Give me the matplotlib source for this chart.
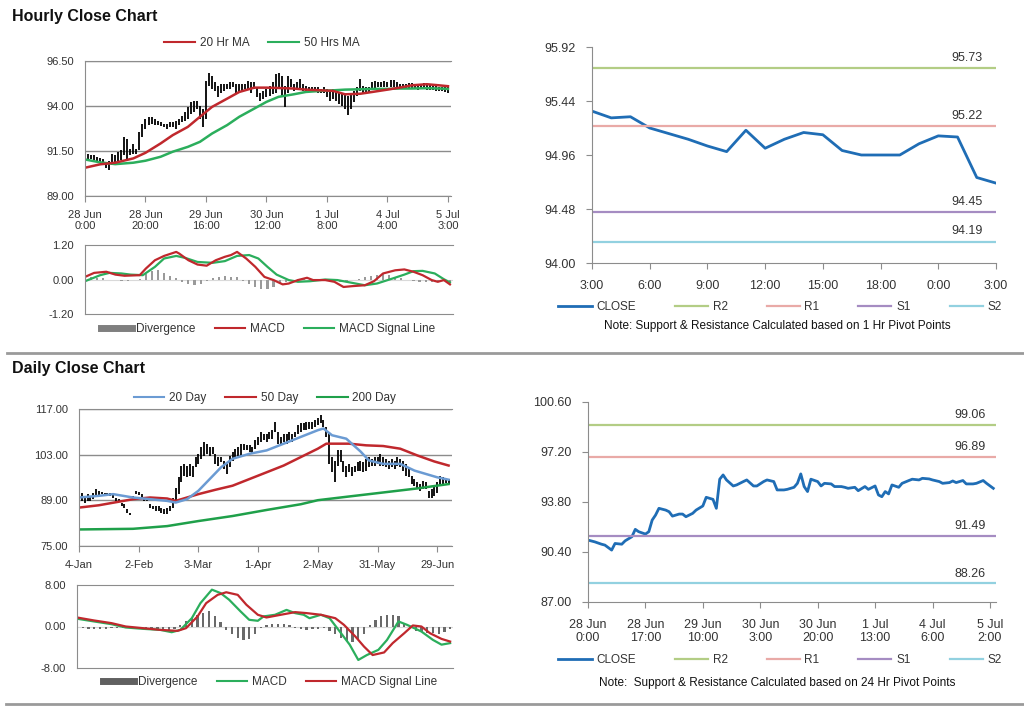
import matplotlib.pyplot as plt
from matplotlib.lines import Line2D
import numpy as np

plt.rcParams['font.family'] = ['Liberation Sans', 'DejaVu Sans']

# ---- hourly close chart (bars: high / low per hour) ----
hourly_hi = [91.45, 91.35, 91.30, 91.26, 91.17, 91.10, 91.08, 90.89, 90.95, 91.35,
             91.26, 91.45, 91.54, 92.27, 92.18, 91.63, 91.91, 91.63, 92.55, 93.01,
             93.28, 93.38, 93.38, 93.28, 93.19, 93.10, 93.01, 93.01, 93.10, 93.10,
             93.19, 93.28, 93.47, 93.65, 93.93, 94.20, 94.29, 94.29, 94.02, 93.83,
             95.40, 95.86, 95.67, 95.31, 95.12, 95.21, 95.21, 95.21, 95.31, 95.31,
             95.21, 95.21, 95.21, 95.21, 95.40, 95.31, 95.31, 95.03, 94.75, 94.85,
             94.94, 95.12, 95.31, 95.76, 95.86, 95.67, 95.12, 95.67, 95.49, 95.21,
             95.31, 95.49, 95.21, 95.12, 95.03, 95.03, 95.03, 95.03, 94.94, 95.03,
             94.94, 94.85, 94.94, 94.85, 94.75, 94.75, 94.66, 94.57, 94.75, 94.85,
             95.03, 95.49, 95.12, 95.03, 95.03, 95.31, 95.40, 95.31, 95.31, 95.40,
             95.34, 95.45, 95.45, 95.31, 95.21, 95.21, 95.21, 95.27, 95.27, 95.21,
             95.21, 95.21, 95.27, 95.16, 95.16, 95.12, 95.12, 95.08, 95.08, 95.03,
             95.03]
hourly_lo = [91.17, 91.08, 91.05, 90.99, 90.95, 90.89, 90.85, 90.53, 90.43, 90.71,
             90.80, 90.89, 90.99, 91.26, 91.08, 91.26, 91.35, 91.35, 91.54, 92.27,
             92.73, 92.92, 93.01, 92.92, 92.92, 92.88, 92.83, 92.73, 92.82, 92.82,
             92.73, 92.92, 93.10, 93.19, 93.28, 93.56, 93.65, 93.83, 93.28, 92.82,
             93.28, 95.12, 94.94, 94.85, 94.48, 94.75, 94.85, 94.94, 94.94, 95.03,
             94.75, 94.75, 94.85, 94.94, 94.94, 94.75, 94.94, 94.48, 94.29, 94.39,
             94.48, 94.57, 94.66, 94.75, 94.94, 94.57, 93.93, 94.75, 95.03, 94.85,
             94.94, 94.94, 94.85, 94.85, 94.79, 94.79, 94.79, 94.75, 94.75, 94.75,
             94.48, 94.29, 94.39, 94.29, 94.11, 94.02, 93.83, 93.50, 93.83, 94.20,
             94.57, 94.85, 94.75, 94.79, 94.79, 94.94, 94.94, 95.03, 95.03, 95.03,
             95.03, 95.03, 95.08, 95.03, 94.94, 94.94, 94.94, 94.94, 94.94, 94.94,
             94.90, 94.94, 94.94, 94.90, 94.90, 94.90, 94.85, 94.85, 94.85, 94.79,
             94.72]
hourly_ma_idx = [0, 5, 10, 16, 20, 25, 29, 34, 38, 42, 47, 51, 56, 60, 64, 69, 73, 78,
                 82, 86, 91, 95, 100, 104, 108, 113, 117, 120]
hourly_ma20 = [90.57, 90.76, 90.85, 91.09, 91.40, 91.92, 92.38, 92.84, 93.40, 93.95,
               94.41, 94.78, 95.02, 95.02, 95.00, 94.97, 94.91, 94.87, 94.84, 94.65,
               94.68, 94.78, 94.91, 95.02, 95.15, 95.21, 95.15, 95.10]
hourly_ma50 = [91.03, 90.87, 90.77, 90.85, 90.96, 91.18, 91.46, 91.73, 92.01, 92.47,
               92.94, 93.40, 93.86, 94.23, 94.51, 94.65, 94.78, 94.84, 94.87, 94.91,
               94.93, 94.95, 94.95, 94.97, 94.97, 94.99, 94.97, 94.95]
hourly_ticks = ['28 Jun\n0:00', '28 Jun\n20:00', '29 Jun\n16:00', '30 Jun\n12:00',
                '1 Jul\n8:00', '4 Jul\n4:00', '5 Jul\n3:00']

# hourly MACD
h_macd_idx = [0, 3, 7, 10, 13, 18, 20, 23, 26, 30, 31, 34, 37, 40, 43, 46, 48, 50, 53, 56,
              59, 62, 65, 67, 70, 73, 75, 79, 82, 85, 88, 92, 95, 98, 102, 105, 108, 111,
              114, 116, 118, 120]
h_macd = [0.09, 0.23, 0.27, 0.17, 0.13, 0.15, 0.38, 0.67, 0.82, 0.96, 0.90, 0.67, 0.52,
          0.48, 0.67, 0.79, 0.85, 0.96, 0.73, 0.44, 0.09, -0.02, -0.17, -0.14, -0.02,
          0.06, -0.02, -0.02, -0.08, -0.26, -0.23, -0.20, -0.06, 0.21, 0.32, 0.35, 0.27,
          0.15, -0.02, -0.08, -0.02, -0.17]
h_sig_idx = [0, 5, 8, 12, 15, 19, 23, 26, 30, 33, 37, 42, 46, 50, 54, 57, 60, 63, 67, 70,
             74, 79, 83, 87, 92, 96, 101, 105, 108, 111, 115, 118, 120]
h_signal = [-0.06, 0.15, 0.23, 0.21, 0.17, 0.15, 0.44, 0.73, 0.82, 0.75, 0.61, 0.58, 0.64,
            0.82, 0.85, 0.73, 0.44, 0.17, -0.02, -0.08, -0.06, 0.00, -0.02, -0.10, -0.20,
            -0.14, 0.03, 0.17, 0.29, 0.30, 0.21, 0.01, -0.10]
h_div = [0.05, 0.08, 0.06, 0.04, 0.0, -0.03, -0.05, -0.04, -0.02, 0.02,
         0.18, 0.30, 0.32, 0.22, 0.12, 0.04, -0.08, -0.14, -0.18, -0.16,
         -0.06, 0.06, 0.10, 0.12, 0.10, 0.08, -0.04, -0.14, -0.25, -0.32,
         -0.34, -0.26, -0.16, -0.08, -0.02, 0.03, 0.05, 0.04, 0.0, -0.02,
         -0.05, -0.08, -0.10, -0.08, -0.03, 0.03, 0.08, 0.12, 0.16, 0.18,
         0.14, 0.08, 0.04, -0.02, -0.06, -0.08, -0.10, -0.08, -0.10, -0.06,
         -0.08]

# 1 hr pivot chart
tr_close = [95.35, 95.29, 95.30, 95.20, 95.15, 95.10, 95.04, 94.99, 95.18, 95.02, 95.10,
            95.16, 95.14, 95.00, 94.96, 94.96, 94.96, 95.06, 95.13, 95.12, 94.76, 94.71]
tr_ticks = ['3:00', '6:00', '9:00', '12:00', '15:00', '18:00', '0:00', '3:00']
tr_yticks = [94.00, 94.48, 94.96, 95.44, 95.92]
tr_levels = {'R2': 95.73, 'R1': 95.22, 'S1': 94.45, 'S2': 94.19}

# ---- daily close chart ----
daily_hi = [92.10, 91.38, 90.35, 90.87, 90.35, 91.38, 92.41, 91.90, 91.69, 91.38,
            91.38, 91.38, 90.87, 89.83, 89.32, 88.28, 87.77, 86.22, 85.18, 90.35,
            91.90, 91.69, 90.87, 89.83, 89.83, 87.77, 87.25, 87.25, 87.25, 86.73,
            86.22, 86.73, 87.25, 89.83, 92.93, 96.03, 99.65, 100.16, 99.65, 100.16,
            99.65, 102.23, 103.26, 105.33, 106.88, 106.36, 105.33, 105.33, 103.26, 102.23,
            102.23, 101.19, 100.16, 102.74, 103.78, 104.81, 105.33, 106.36, 106.36, 105.84,
            105.84, 105.33, 107.39, 108.43, 109.98, 109.46, 109.46, 109.98, 110.49, 113.07,
            109.98, 108.43, 109.46, 109.46, 109.98, 109.46, 109.98, 112.04, 112.56, 112.56,
            113.07, 113.07, 113.07, 113.59, 114.11, 115.14, 113.59, 111.52, 109.98, 102.23,
            101.19, 104.29, 104.29, 101.19, 99.65, 100.16, 99.13, 99.65, 100.68, 101.19,
            100.68, 101.71, 102.23, 101.71, 102.23, 102.23, 103.26, 102.23, 101.71, 101.19,
            101.71, 101.19, 102.23, 101.71, 101.19, 100.16, 99.13, 96.55, 95.51, 94.48,
            93.96, 95.00, 94.48, 91.90, 92.41, 93.45, 94.48, 96.55, 96.03, 95.82,
            95.51]
daily_lo = [88.80, 88.80, 88.28, 88.80, 88.80, 89.32, 90.35, 90.35, 90.87, 90.66,
            90.66, 90.35, 89.83, 88.80, 88.80, 87.25, 86.73, 85.18, 84.46, 89.32,
            90.87, 90.66, 89.83, 88.80, 88.80, 86.73, 86.22, 85.70, 85.70, 85.18,
            84.67, 84.67, 85.70, 86.73, 88.80, 90.87, 94.48, 96.55, 96.03, 96.55,
            96.03, 99.13, 100.16, 101.71, 102.74, 103.26, 102.74, 103.26, 100.16, 99.65,
            100.68, 98.61, 97.06, 99.13, 101.19, 102.23, 102.74, 102.74, 104.29, 104.29,
            103.78, 103.26, 104.81, 105.84, 106.88, 107.39, 106.88, 107.91, 107.91, 109.98,
            106.36, 105.84, 106.88, 106.36, 107.39, 106.88, 108.43, 109.46, 109.98, 110.49,
            110.49, 111.01, 111.01, 111.52, 112.04, 112.56, 111.52, 108.43, 100.16, 97.58,
            94.48, 99.65, 100.68, 97.58, 96.03, 97.58, 96.55, 97.58, 98.10, 98.10,
            97.58, 98.10, 99.13, 99.65, 99.65, 100.16, 99.65, 99.65, 99.13, 98.61,
            99.13, 98.61, 99.65, 99.13, 98.10, 96.55, 96.03, 93.96, 93.45, 92.41,
            91.90, 92.41, 92.41, 89.83, 89.83, 90.35, 91.38, 93.45, 93.96, 94.17,
            93.96]
d20_idx = [0, 7, 12, 19, 25, 31, 34, 38, 42, 46, 50, 54, 60, 66, 72, 78, 84, 86, 89, 94,
           99, 102, 107, 113, 118, 122, 126, 130]
d20 = [89.87, 90.38, 90.90, 89.87, 89.35, 88.83, 88.32, 89.35, 91.93, 95.54, 99.15, 101.73,
       103.28, 104.31, 106.37, 108.44, 110.50, 111.02, 108.95, 107.90, 104.00, 101.21,
       100.18, 100.18, 98.12, 97.09, 96.06, 95.33]
d50_idx = [0, 7, 19, 25, 31, 34, 38, 42, 48, 54, 60, 66, 72, 78, 84, 87, 95, 101, 107, 113,
           119, 125, 130]
d50 = [86.77, 87.49, 89.35, 89.87, 89.56, 88.83, 89.87, 90.90, 92.24, 93.48, 95.54, 97.60,
       99.67, 102.25, 104.83, 106.37, 106.37, 105.86, 105.65, 104.83, 102.76, 100.91, 99.67]
d200_idx = [0, 19, 31, 42, 54, 66, 78, 84, 95, 107, 119, 130]
d200 = [80.07, 80.27, 81.10, 82.65, 84.19, 86.05, 87.80, 89.04, 90.18, 91.41, 92.65, 93.99]
daily_ticks = ['4-Jan', '2-Feb', '3-Mar', '1-Apr', '2-May', '31-May', '29-Jun']

# daily MACD
d_macd_idx = [0, 6, 12, 17, 23, 29, 33, 36, 40, 43, 47, 50, 53, 57, 60, 63, 65, 69, 73, 76,
              79, 81, 85, 88, 92, 95, 98, 101, 105, 108, 112, 115, 120, 124, 127, 130]
d_macd = [1.5, 0.97, 0.45, -0.19, -0.45, -0.65, -1.1, -0.65, 1.6, 4.5, 7.1, 6.45, 5.16, 2.9,
          1.29, 1.1, 1.94, 2.26, 3.2, 2.58, 2.26, 1.6, 2.26, 1.6, -1.3, -3.5, -6.45, -5.5,
          -4.5, -2.6, 0.97, 0.32, -0.97, -2.58, -3.5, -3.2]
d_sig_idx = [0, 6, 12, 17, 23, 29, 35, 38, 42, 45, 49, 52, 56, 59, 63, 66, 71, 76, 80, 85,
             90, 93, 97, 100, 103, 107, 110, 114, 117, 120, 123, 127, 130]
d_signal = [1.74, 1.16, 0.65, 0.0, -0.32, -0.65, -0.84, -0.32, 1.94, 4.5, 6.1, 6.6, 6.1, 4.2,
            2.26, 1.74, 2.26, 2.77, 2.58, 2.26, 1.6, 0.32, -1.94, -3.87, -5.5, -5.0, -3.2,
            -1.3, 0.2, 0.0, -1.3, -2.39, -2.9]
d_div = [-0.1, -0.3, -0.4, -0.5, -0.5, -0.4, -0.3, -0.2, -0.2, -0.2,
         -0.3, -0.3, -0.4, -0.4, -0.4, -0.5, -0.6, -0.5, 0.3, 1.0,
         1.6, 2.2, 2.6, 3.0, 2.0, 0.8, -0.6, -1.5, -2.2, -2.6,
         -2.5, -1.5, -0.3, 0.3, 0.4, 0.4, 0.4, 0.3, -0.2, -0.4,
         -0.6, -0.5, -0.4, -0.3, -0.8, -1.5, -2.2, -2.8, -3.0, -2.5,
         -1.5, 0.3, 1.2, 2.0, 2.3, 2.3, 2.0, 0.6, -0.3, -0.8,
         -1.0, -1.2, -1.3, -1.4, -1.0, -0.5]

# 24 hr pivot chart
br_hours = [0, 2, 4, 5, 7, 8, 10, 11, 13, 14, 15, 17, 18, 19, 20, 21, 23, 24, 25, 27, 28,
            29, 31, 32, 34, 35, 37, 38, 39, 40, 41, 43, 44, 46, 47, 49, 50, 52, 53, 55, 56,
            58, 59, 61, 62, 63, 64, 65, 66, 68, 69, 70, 72, 73, 75, 76, 77, 79, 80, 82, 83,
            85, 86, 87, 88, 89, 90, 92, 93, 95, 96, 98, 99, 101, 102, 104, 105, 107, 108,
            109, 111, 112, 114, 115, 117, 118, 120]
br_close = [91.21, 91.09, 90.93, 90.87, 90.53, 90.98, 90.93, 91.16, 91.44, 91.94, 91.78,
            91.62, 91.78, 92.57, 92.91, 93.37, 93.25, 93.14, 92.84, 92.98, 92.98, 92.80,
            93.03, 93.25, 93.53, 94.12, 93.98, 93.37, 95.35, 95.64, 95.30, 94.89, 94.96,
            95.19, 95.30, 94.89, 94.89, 95.19, 95.30, 95.19, 94.62, 94.62, 94.66, 94.80,
            95.07, 95.71, 94.85, 94.51, 95.35, 95.19, 94.89, 95.07, 95.03, 94.85, 94.85,
            94.80, 94.73, 94.80, 94.57, 94.85, 94.66, 94.89, 94.28, 94.16, 94.51, 94.35,
            94.96, 94.80, 95.07, 95.26, 95.35, 95.30, 95.41, 95.37, 95.30, 95.19, 95.07,
            95.12, 95.23, 95.12, 95.26, 95.03, 95.03, 95.07, 95.26, 95.07, 94.73]
br_ticks = ['28 Jun\n0:00', '28 Jun\n17:00', '29 Jun\n10:00', '30 Jun\n3:00',
            '30 Jun\n20:00', '1 Jul\n13:00', '4 Jul\n6:00', '5 Jul\n2:00']
br_yticks = [87.00, 90.40, 93.80, 97.20, 100.60]
br_levels = {'R2': 99.06, 'R1': 96.89, 'S1': 91.49, 'S2': 88.26}

RED = '#c0282d'
GREEN = '#2bae5c'
BLUE = '#6b9bd3'
CLOSE = '#1f6db5'
LEVEL_COLORS = {'R2': '#b3cd85', 'R1': '#e9aaa7', 'S1': '#a58cc2', 'S2': '#92d1e0'}
AXC = '#8c8c8c'
TXT = '#333333'

W, H = 1024, 706
fig = plt.figure(figsize=(W / 100, H / 100), dpi=100)


def rect(left, top, right, bottom):
    return [left / W, 1 - bottom / H, (right - left) / W, (bottom - top) / H]


def style(ax, size=8, top=True):
    ax.spines['right'].set_visible(False)
    ax.spines['top'].set_visible(top)
    for s in ['left', 'bottom', 'top']:
        ax.spines[s].set_color(AXC)
    ax.tick_params(colors=AXC, labelcolor=TXT, labelsize=size, length=4, width=0.8)


def fmt2(ax, ticks):
    ax.set_yticks(ticks)
    ax.set_yticklabels(['%.2f' % t for t in ticks])


def legend(handles, labels, x, y, size=8.5, colsp=1.6, hl=2.6):
    fig.legend(handles, labels, loc='center', bbox_to_anchor=(x / W, 1 - y / H),
               ncol=len(labels), frameon=False, fontsize=size, columnspacing=colsp,
               handlelength=hl, handletextpad=0.4, labelcolor=TXT)


# titles and separators
fig.text(12 / W, 1 - 16 / H, 'Hourly Close Chart', fontsize=11.5, fontweight='bold',
         va='center', ha='left', color='#111111')
fig.text(12 / W, 1 - 369 / H, 'Daily Close Chart', fontsize=11.5, fontweight='bold',
         va='center', ha='left', color='#111111')
fig.add_artist(Line2D([7 / W, 1], [1 - 353 / H] * 2, color='#9a9a9a', lw=2))
fig.add_artist(Line2D([6 / W, 1], [1 - 704 / H] * 2, color='#9a9a9a', lw=2))

# hourly bars
ax = fig.add_axes(rect(85, 61, 451, 196))
style(ax)
ax.yaxis.grid(True, color=AXC, lw=1)
ax.set_axisbelow(True)
ax.vlines(np.arange(len(hourly_hi)), hourly_lo, hourly_hi, color='black', lw=1.3)
ax.plot(hourly_ma_idx, hourly_ma50, color=GREEN, lw=1.8)
ax.plot(hourly_ma_idx, hourly_ma20, color=RED, lw=1.8)
ax.set_xlim(0, 121)
ax.set_ylim(89, 96.5)
fmt2(ax, [89.00, 91.50, 94.00, 96.50])
ax.set_xticks(np.arange(0, 121, 20))
ax.set_xticklabels(hourly_ticks)
ax.tick_params(axis='x', pad=6)
ax.tick_params(axis='y', length=0, pad=8)
legend([Line2D([], [], color=RED, lw=1.5), Line2D([], [], color=GREEN, lw=1.5)],
       ['20 Hr MA', '50 Hrs MA'], 262, 43)

# hourly MACD
ax = fig.add_axes(rect(85, 245, 453, 314))
style(ax)
ax.axhline(0, color='#d9d9d9', lw=0.8, zorder=0)
ax.bar(np.arange(0, 121, 2), h_div, width=0.7, color='#9a9a9a')
ax.plot(h_sig_idx, h_signal, color=GREEN, lw=1.6)
ax.plot(h_macd_idx, h_macd, color=RED, lw=1.6)
ax.set_xlim(0, 121)
ax.set_ylim(-1.2, 1.2)
fmt2(ax, [-1.20, 0.00, 1.20])
ax.tick_params(axis='x', bottom=False, labelbottom=False)
ax.tick_params(axis='y', length=0, pad=8)
legend([Line2D([], [], color='#7f7f7f', lw=5), Line2D([], [], color=RED, lw=1.5),
        Line2D([], [], color=GREEN, lw=1.5)],
       ['Divergence', 'MACD', 'MACD Signal Line'], 268, 329)

# 1 hr pivot chart
ax = fig.add_axes(rect(592, 47, 996, 263))
style(ax, size=9, top=False)
ax.plot(np.arange(len(tr_close)), tr_close, color=CLOSE, lw=2, label='CLOSE')
for name, v in tr_levels.items():
    ax.axhline(v, color=LEVEL_COLORS[name], lw=1.6, label=name)
    ax.annotate('%.2f' % v, xy=(0.928, v), xycoords=('axes fraction', 'data'),
                xytext=(0, 3), textcoords='offset points', ha='center', va='bottom',
                fontsize=9, color=TXT)
ax.set_xlim(0, 21)
ax.set_ylim(94.00, 95.92)
fmt2(ax, tr_yticks)
ax.set_xticks(np.arange(0, 22, 3))
ax.set_xticklabels(tr_ticks)
ax.tick_params(axis='x', pad=8)
ax.tick_params(axis='y', pad=8)
h, l = ax.get_legend_handles_labels()
legend(h, l, 780, 307, size=8.5, colsp=3.3, hl=2.8)
fig.text(777 / W, 1 - 326 / H, 'Note: Support & Resistance Calculated based on 1 Hr Pivot Points',
         fontsize=8.5, ha='center', va='center', color='#111111')

# daily bars
ax = fig.add_axes(rect(79, 409, 452, 546))
style(ax)
ax.yaxis.grid(True, color=AXC, lw=1)
ax.set_axisbelow(True)
ax.vlines(np.arange(len(daily_hi)), daily_lo, daily_hi, color='black', lw=1.3)
ax.plot(d200_idx, d200, color='#1fa04a', lw=1.8)
ax.plot(d50_idx, d50, color=RED, lw=1.8)
ax.plot(d20_idx, d20, color=BLUE, lw=1.8)
ax.set_xlim(0, 131.2)
ax.set_ylim(75, 117)
fmt2(ax, [75.00, 89.00, 103.00, 117.00])
ax.set_xticks(np.arange(0, 131, 21))
ax.set_xticklabels(daily_ticks)
ax.tick_params(axis='x', pad=6)
ax.tick_params(axis='y', length=0, pad=8)
legend([Line2D([], [], color=BLUE, lw=1.5), Line2D([], [], color=RED, lw=1.5),
        Line2D([], [], color='#1fa04a', lw=1.5)],
       ['20 Day', '50 Day', '200 Day'], 265, 398)

# daily MACD
ax = fig.add_axes(rect(77, 585, 453, 668))
style(ax)
ax.axhline(0, color='#d9d9d9', lw=0.8, zorder=0)
ax.bar(np.arange(0, 131, 2), d_div, width=0.8, color='#6a6a6a')
ax.plot(d_macd_idx, d_macd, color=GREEN, lw=1.6)
ax.plot(d_sig_idx, d_signal, color=RED, lw=1.6)
ax.set_xlim(0, 131)
ax.set_ylim(-8, 8)
fmt2(ax, [-8.00, 0.00, 8.00])
ax.tick_params(axis='x', bottom=False, labelbottom=False)
ax.tick_params(axis='y', length=0, pad=8)
legend([Line2D([], [], color='#606060', lw=5), Line2D([], [], color=GREEN, lw=1.5),
        Line2D([], [], color=RED, lw=1.5)],
       ['Divergence', 'MACD', 'MACD Signal Line'], 270, 682)

# 24 hr pivot chart
ax = fig.add_axes(rect(588, 402, 996, 602))
style(ax, size=9, top=False)
ax.plot(br_hours, br_close, color=CLOSE, lw=2, label='CLOSE')
for name, v in br_levels.items():
    ax.axhline(v, color=LEVEL_COLORS[name], lw=1.6, label=name)
    ax.annotate('%.2f' % v, xy=(0.936, v), xycoords=('axes fraction', 'data'),
                xytext=(0, 2.5), textcoords='offset points', ha='center', va='bottom',
                fontsize=9, color=TXT)
ax.set_xlim(0, 120.8)
ax.set_ylim(87.00, 100.60)
fmt2(ax, br_yticks)
ax.set_xticks(np.arange(0, 120, 17))
ax.set_xticklabels(br_ticks)
ax.tick_params(axis='x', pad=8)
ax.tick_params(axis='y', pad=8)
h, l = ax.get_legend_handles_labels()
legend(h, l, 780, 660, size=8.5, colsp=3.3, hl=2.8)
fig.text(777 / W, 1 - 683 / H, 'Note:  Support & Resistance Calculated based on 24 Hr Pivot Points',
         fontsize=8.5, ha='center', va='center', color='#111111')

plt.savefig('out.png', dpi=100)
